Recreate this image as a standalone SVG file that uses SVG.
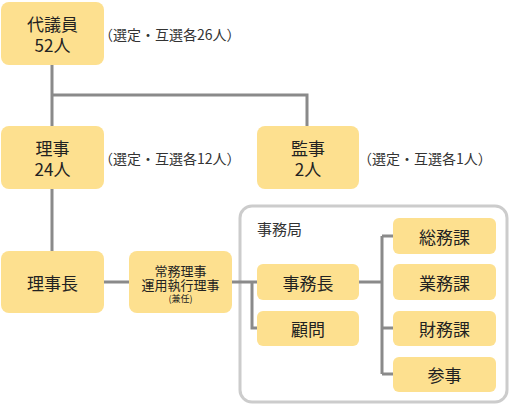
<svg xmlns="http://www.w3.org/2000/svg" width="510" height="406" viewBox="0 0 510 406">
<style>
.b{fill:#fde08f;}
.t{font-family:"Noto Sans CJK JP","Noto Sans",sans-serif;fill:#222;text-anchor:middle;dominant-baseline:central;}
.big{font-size:17px;}
.note{font-family:"Noto Sans CJK JP","Noto Sans",sans-serif;fill:#333;font-size:14px;dominant-baseline:central;}
.c{stroke:#8a8a8a;stroke-width:3;fill:none;}
</style>
<rect x="240" y="206" width="267" height="196" rx="12" fill="#fff" stroke="#cccccc" stroke-width="3"/>
<text class="note" x="257" y="228" style="font-size:15px">事務局</text>
<g id="connectors">
<path class="c" d="M52 65V126M52 95H307V126M52 189V251M104 282H129M232 282H257M252 282V328H257M359 282H382M382 236V374M382 236H393M382 328H393M382 374H393"/>
</g>
<g id="daigiin"><rect class="b" x="1" y="2" width="103" height="63" rx="8"/><text class="t big"><tspan x="52.5" y="23">代議員</tspan><tspan x="52.5" y="44">52人</tspan></text></g>
<text class="note" x="99" y="34">（選定・互選各26人）</text>
<g id="riji"><rect class="b" x="1" y="126" width="103" height="63" rx="8"/><text class="t big"><tspan x="52.5" y="147">理事</tspan><tspan x="52.5" y="168">24人</tspan></text></g>
<text class="note" x="99" y="158">（選定・互選各12人）</text>
<g id="kanji"><rect class="b" x="257" y="126" width="102" height="63" rx="8"/><text class="t big"><tspan x="308" y="147">監事</tspan><tspan x="308" y="168">2人</tspan></text></g>
<text class="note" x="358" y="158">（選定・互選各1人）</text>
<g id="rijicho"><rect class="b" x="1" y="251" width="103" height="62" rx="8"/><text class="t big" x="52.5" y="282">理事長</text></g>
<g id="jomu"><rect class="b" x="129" y="251" width="103" height="62" rx="8"/><text class="t" style="font-size:13px"><tspan x="180.5" y="270">常務理事</tspan><tspan x="180.5" y="284">運用執行理事</tspan><tspan x="180.5" y="298" style="font-size:9px">(兼任)</tspan></text></g>
<g id="jimucho"><rect class="b" x="257" y="264" width="102" height="36" rx="6"/><text class="t big" x="308" y="282">事務長</text></g>
<g id="komon"><rect class="b" x="257" y="311" width="102" height="35" rx="6"/><text class="t big" x="308" y="328.5">顧問</text></g>
<g id="somu"><rect class="b" x="393" y="218" width="103" height="36" rx="6"/><text class="t big" x="444.5" y="236">総務課</text></g>
<g id="gyomu"><rect class="b" x="393" y="264" width="103" height="36" rx="6"/><text class="t big" x="444.5" y="282">業務課</text></g>
<g id="zaimu"><rect class="b" x="393" y="311" width="103" height="35" rx="6"/><text class="t big" x="444.5" y="328.5">財務課</text></g>
<g id="sanji"><rect class="b" x="393" y="357" width="103" height="35" rx="6"/><text class="t big" x="444.5" y="374.5">参事</text></g>
</svg>
